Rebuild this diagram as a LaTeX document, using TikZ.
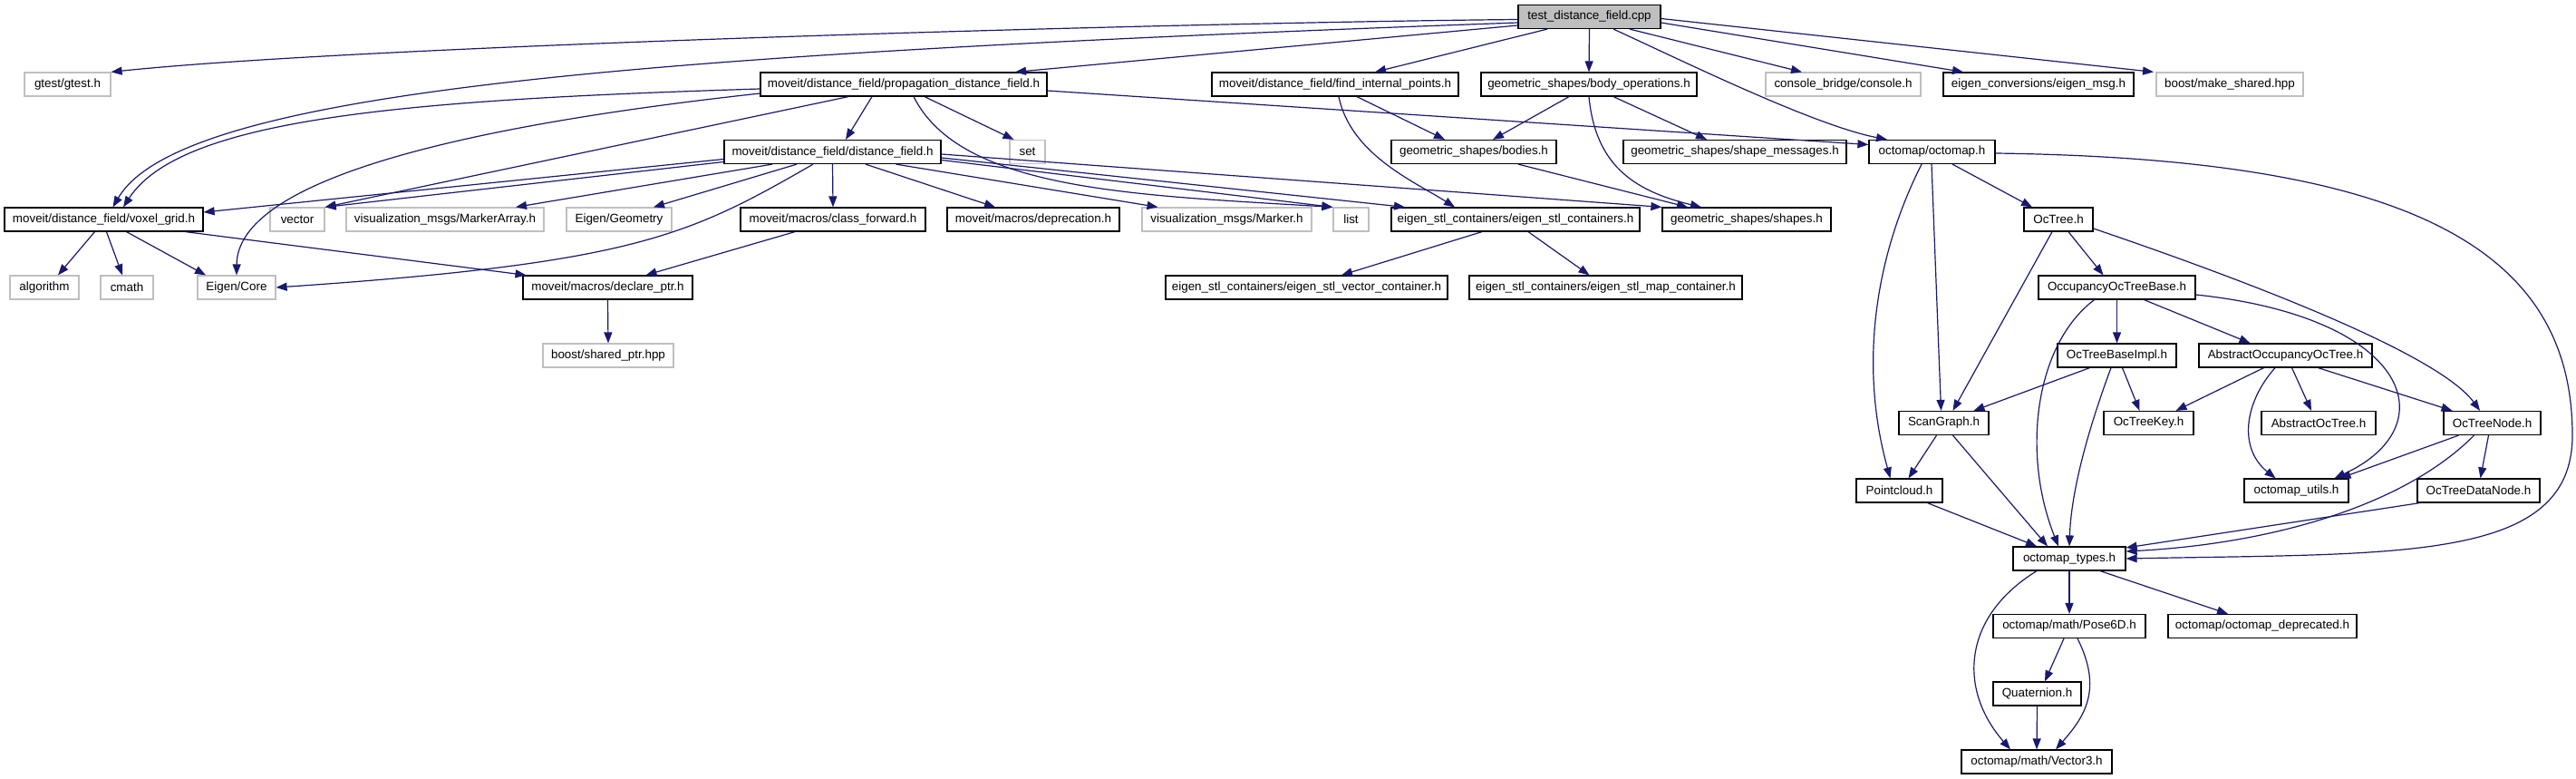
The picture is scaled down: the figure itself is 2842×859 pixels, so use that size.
\documentclass[tikz,border=0pt]{standalone}
\usepackage{fontspec}
\setmainfont{Liberation Sans}
\usetikzlibrary{arrows.meta}
\definecolor{edgec}{HTML}{191970}
\definecolor{greyb}{HTML}{BFBFBF}
\begin{document}
\begin{tikzpicture}[x=1pt,y=-1pt,
  nd/.style={draw=black, line width=1.2pt, fill=white, minimum height=26pt, inner sep=0pt, font=\fontsize{13.4}{16}\selectfont},
  gr/.style={nd, draw=greyb},
  top/.style={nd, fill=greyb},
  e/.style={draw=edgec, line width=1.2pt, -{Triangle[length=12pt,width=9pt]}}]
\useasboundingbox[fill=white] (0,0) rectangle (2842,859);
% row 0
\node[top, minimum width=157pt] (test) at (1753.5,18.5) {test\_distance\_field.cpp};
% row 1
\node[gr, minimum width=95pt] (gtest) at (74.5,93) {gtest/gtest.h};
\node[nd, minimum width=316pt] (prop) at (997,93) {moveit/distance\_field/propagation\_distance\_field.h};
\node[nd, minimum width=272pt] (find) at (1473,93) {moveit/distance\_field/find\_internal\_points.h};
\node[nd, minimum width=238pt] (bodyops) at (1753,93) {geometric\_shapes/body\_operations.h};
\node[gr, minimum width=171pt] (console) at (2033.5,93) {console\_bridge/console.h};
\node[nd, minimum width=210pt] (emsg) at (2249,93) {eigen\_conversions/eigen\_msg.h};
\node[gr, minimum width=162pt] (mkshared) at (2460,93) {boost/make\_shared.hpp};
% row 2
\node[nd, minimum width=239pt] (dfield) at (918.5,167.5) {moveit/distance\_field/distance\_field.h};
\node[gr, minimum width=39pt] (set) at (1133.5,167.5) {set};
\node[nd, minimum width=182pt] (bodies) at (1626,167.5) {geometric\_shapes/bodies.h};
\node[nd, minimum width=246pt] (shapemsg) at (1914,167.5) {geometric\_shapes/shape\_messages.h};
\node[nd, minimum width=139pt] (octomap) at (2131.5,167.5) {octomap/octomap.h};
% row 3
\node[nd, minimum width=219pt] (voxel) at (114.5,242) {moveit/distance\_field/voxel\_grid.h};
\node[gr, minimum width=60pt] (vector) at (328,242) {vector};
\node[gr, minimum width=218pt] (markerarr) at (491,242) {visualization\_msgs/MarkerArray.h};
\node[gr, minimum width=116pt] (egeom) at (683,242) {Eigen/Geometry};
\node[nd, minimum width=204pt] (classfwd) at (919,242) {moveit/macros/class\_forward.h};
\node[nd, minimum width=190pt] (deprec) at (1140,242) {moveit/macros/deprecation.h};
\node[gr, minimum width=187pt] (marker) at (1353.5,242) {visualization\_msgs/Marker.h};
\node[gr, minimum width=39pt] (list) at (1490.5,242) {list};
\node[nd, minimum width=274pt] (estl) at (1672,242) {eigen\_stl\_containers/eigen\_stl\_containers.h};
\node[nd, minimum width=186pt] (shapes) at (1927,242) {geometric\_shapes/shapes.h};
\node[nd, minimum width=76pt] (octree) at (2271,242) {OcTree.h};
% row 4
\node[gr, minimum width=76pt] (algo) at (49,317) {algorithm};
\node[gr, minimum width=58pt] (cmath) at (140,317) {cmath};
\node[gr, minimum width=86pt] (ecore) at (261,317) {Eigen/Core};
\node[nd, minimum width=187pt] (declptr) at (670.5,317) {moveit/macros/declare\_ptr.h};
\node[nd, minimum width=311pt] (vecont) at (1441.5,317) {eigen\_stl\_containers/eigen\_stl\_vector\_container.h};
\node[nd, minimum width=301pt] (mapcont) at (1771.5,317) {eigen\_stl\_containers/eigen\_stl\_map\_container.h};
\node[nd, minimum width=173pt] (occbase) at (2335.5,317) {OccupancyOcTreeBase.h};
% row 5
\node[gr, minimum width=144pt] (shptr) at (671,392) {boost/shared\_ptr.hpp};
\node[nd, minimum width=131pt] (obimpl) at (2335.5,392) {OcTreeBaseImpl.h};
\node[nd, minimum width=191pt] (absocc) at (2521.5,392) {AbstractOccupancyOcTree.h};
% row 6
\node[nd, minimum width=99pt] (scang) at (2144.5,466.5) {ScanGraph.h};
\node[nd, minimum width=99pt] (otkey) at (2370.5,466.5) {OcTreeKey.h};
\node[nd, minimum width=126pt] (absot) at (2558,466.5) {AbstractOcTree.h};
\node[nd, minimum width=107pt] (otnode) at (2749.5,466.5) {OcTreeNode.h};
% row 7
\node[nd, minimum width=95pt] (pcloud) at (2095.5,541) {Pointcloud.h};
\node[nd, minimum width=115pt] (outils) at (2533.5,541) {octomap\_utils.h};
\node[nd, minimum width=135pt] (otdnode) at (2734.5,541) {OcTreeDataNode.h};
% rows 8-11
\node[nd, minimum width=124pt] (types) at (2283,616) {octomap\_types.h};
\node[nd, minimum width=168pt] (pose) at (2283,690.5) {octomap/math/Pose6D.h};
\node[nd, minimum width=208pt] (odepr) at (2496,690.5) {octomap/octomap\_deprecated.h};
\node[nd, minimum width=97pt] (quat) at (2247.5,765) {Quaternion.h};
\node[nd, minimum width=166pt] (vec3) at (2247,840) {octomap/math/Vector3.h};

% edges from test
\draw[e] ([yshift=-3pt]test.west) .. controls (1300,25) and (400,50) .. (gtest.north east);
\draw[e] ([yshift=-6.5pt]test.west) .. controls (700,60) and (200,100) .. ([xshift=10pt]voxel.north);
\draw[e] ([yshift=-9.5pt]test.west) -- ([xshift=123pt]prop.north);
\draw[e] ([xshift=-46.5pt]test.south) -- ([xshift=44pt]find.north);
\draw[e] (test.south) -- (bodyops.north);
\draw[e] ([xshift=26.5pt]test.south) .. controls (1850,64) and (2000,138) .. ([xshift=-49.5pt]octomap.north);
\draw[e] ([xshift=44.5pt]test.south) -- ([xshift=-45.5pt]console.north);
\draw[e] ([yshift=-6.5pt]test.east) -- ([xshift=-83pt]emsg.north);
\draw[e] ([yshift=-2pt]test.east) -- ([xshift=-84pt]mkshared.north);
% prop
\draw[e] ([yshift=-5pt]prop.west) .. controls (450,110) and (200,130) .. ([xshift=21.5pt]voxel.north);
\draw[e] ([yshift=-10pt]prop.west) .. controls (500,140) and (262,200) .. (ecore.north);
\draw[e] ([xshift=-61pt]prop.south) -- (vector.north east);
\draw[e] ([xshift=-35pt]prop.south) -- ([xshift=14.5pt]dfield.north);
\draw[e] ([xshift=23pt]prop.south) -- ([xshift=-15pt]set.north);
\draw[e] ([xshift=11pt]prop.south) .. controls (1060,210) and (1250,215) .. (list.north west);
\draw[e] ([yshift=-7pt]prop.east) -- ([yshift=8pt]octomap.west);
% dfield
\draw[e] ([yshift=-8pt]dfield.west) -- ([yshift=8pt]voxel.east);
\draw[e] ([yshift=-11pt]dfield.west) -- (vector.north east);
\draw[e] ([xshift=-66.5pt]dfield.south) -- ([xshift=78pt]markerarr.north);
\draw[e] ([xshift=-39.5pt]dfield.south) -- ([xshift=38pt]egeom.north);
\draw[e] (dfield.south) -- (classfwd.north);
\draw[e] ([xshift=-21.5pt]dfield.south) .. controls (760,260) and (700,290) .. (ecore.east);
\draw[e] ([xshift=36.5pt]dfield.south) -- ([xshift=-42pt]deprec.north);
\draw[e] ([xshift=70pt]dfield.south) -- ([xshift=-76pt]marker.north);
\draw[e] ([yshift=-9pt]dfield.east) -- (list.north west);
\draw[e] ([yshift=-6.5pt]dfield.east) -- ([xshift=-122pt]estl.north);
\draw[e] ([yshift=-2.5pt]dfield.east) -- (shapes.north west);
% voxel
\draw[e] ([xshift=-10pt]voxel.south) -- ([xshift=15pt]algo.north);
\draw[e] ([xshift=3pt]voxel.south) -- ([xshift=-5pt]cmath.north);
\draw[e] ([xshift=25pt]voxel.south) -- ([xshift=-34pt]ecore.north);
\draw[e] ([xshift=90pt]voxel.south) -- ([xshift=-90pt]declptr.north);
\draw[e] ([xshift=-42pt]classfwd.south) -- ([xshift=42pt]declptr.north);
\draw[e] (declptr.south) -- (shptr.north);
% find, bodyops, bodies
\draw[e] ([xshift=24pt]find.south) -- ([xshift=-32pt]bodies.north);
\draw[e] ([xshift=4pt]find.south) .. controls (1490,170) and (1560,200) .. ([xshift=-67pt]estl.north);
\draw[e] ([xshift=-22pt]bodyops.south) -- ([xshift=21pt]bodies.north);
\draw[e] ([xshift=27pt]bodyops.south) -- ([xshift=-31pt]shapemsg.north);
\draw[e] (bodyops.south) .. controls (1760,180) and (1800,210) .. ([xshift=-50pt]shapes.north);
\draw[e] ([xshift=49pt]bodies.south) -- ([xshift=-65pt]shapes.north);
\draw[e] ([xshift=-37pt]estl.south) -- ([xshift=38.5pt]vecont.north);
\draw[e] ([xshift=14pt]estl.south) -- ([xshift=-18pt]mapcont.north);
% octomap
\draw[e] ([xshift=-11.5pt]octomap.south) .. controls (2070,280) and (2050,400) .. ([xshift=-10pt]pcloud.north);
\draw[e] ([xshift=-0.5pt]octomap.south) -- ([xshift=-3pt]scang.north);
\draw[e] ([xshift=22.5pt]octomap.south) -- ([xshift=-29pt]octree.north);
\coordinate (rt) at (2838,480);
\draw[e] ([yshift=-1.5pt]octomap.east) .. controls (2650,175) and (2838,270) .. (rt) .. controls (2838,620) and (2650,610) .. (types.east);
% octree
\draw[e] ([xshift=-7pt]octree.south) -- ([xshift=10pt]scang.north);
\draw[e] ([xshift=11pt]octree.south) -- ([xshift=-15pt]occbase.north);
\draw[e] ([yshift=-10pt]octree.east) .. controls (2480,310) and (2690,390) .. ([xshift=-13.5pt]otnode.north);
% occbase
\draw[e] (occbase.south) -- (obimpl.north);
\draw[e] ([xshift=30pt]occbase.south) -- ([xshift=-39pt]absocc.north);
\draw[e] ([xshift=-25pt]occbase.south) .. controls (2245,380) and (2230,500) .. ([xshift=-12pt]types.north);
\draw[e] ([yshift=-8pt]occbase.east) .. controls (2660,350) and (2700,470) .. ([xshift=42pt]outils.north);
% obimpl
\draw[e] ([xshift=-30pt]obimpl.south) -- ([xshift=33pt]scang.north);
\draw[e] ([xshift=6pt]obimpl.south) -- ([xshift=-10pt]otkey.north);
\draw[e] ([xshift=-6.5pt]obimpl.south) .. controls (2305,470) and (2285,540) .. (types.north);
% absocc
\draw[e] ([xshift=-24pt]absocc.south) -- ([xshift=30pt]otkey.north);
\draw[e] ([xshift=7pt]absocc.south) -- ([xshift=-8pt]absot.north);
\draw[e] ([xshift=36pt]absocc.south) -- ([xshift=-44pt]otnode.north);
\draw[e] ([xshift=-11.5pt]absocc.south) .. controls (2475,445) and (2470,495) .. ([xshift=-23pt]outils.north);
% scang
\draw[e] ([xshift=-8pt]scang.south) -- ([xshift=10pt]pcloud.north);
\draw[e] ([xshift=10pt]scang.south) -- ([xshift=-24pt]types.north);
% otnode
\draw[e] ([xshift=-37pt]otnode.south) -- ([xshift=48pt]outils.north);
\draw[e] ([xshift=-4pt]otnode.south) -- ([xshift=2pt]otdnode.north);
\draw[e] ([xshift=-20pt]otnode.south) .. controls (2650,560) and (2500,600) .. ([yshift=8pt]types.east);
\draw[e] ([xshift=-65pt]otdnode.south) -- ([yshift=12pt]types.east);
\draw[e] ([xshift=31pt]pcloud.south) -- ([xshift=-36pt]types.north);
% types
\draw[e] (types.south) -- (pose.north);
\draw[e] ([xshift=34pt]types.south) -- ([xshift=-38pt]odepr.north);
\draw[e] ([xshift=-36pt]types.south) .. controls (2165,680) and (2160,760) .. ([xshift=-29pt]vec3.north);
\draw[e] ([xshift=-6pt]pose.south) -- ([xshift=8.5pt]quat.north);
\draw[e] ([xshift=9pt]pose.south) .. controls (2320,760) and (2300,790) .. ([xshift=21pt]vec3.north);
\draw[e] (quat.south) -- (vec3.north);
\end{tikzpicture}
\end{document}
